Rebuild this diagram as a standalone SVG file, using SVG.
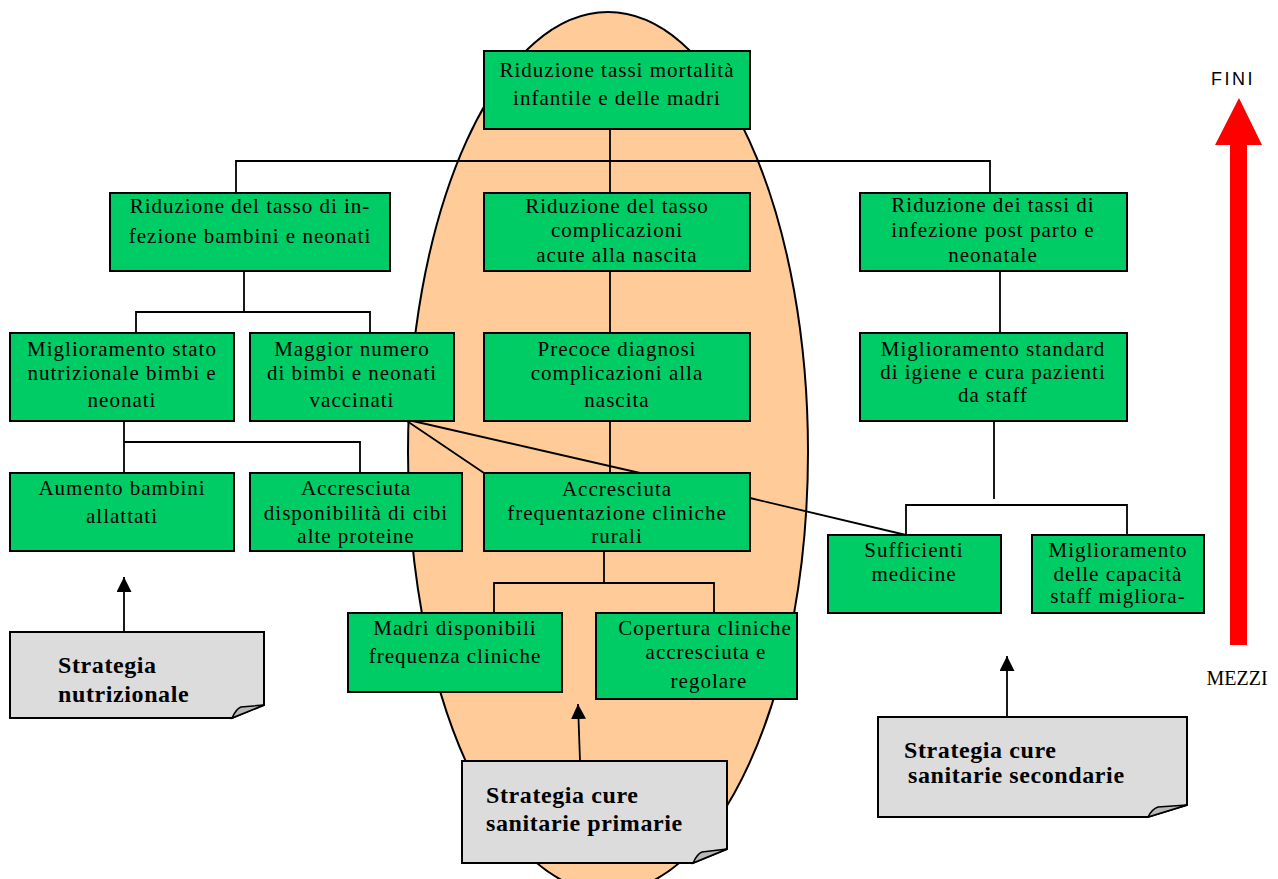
<svg xmlns="http://www.w3.org/2000/svg" width="1278" height="879" viewBox="0 0 1278 879">
<defs>
<marker id="ah" viewBox="0 0 10 10" refX="10" refY="5" markerWidth="15" markerHeight="15" markerUnits="userSpaceOnUse" orient="auto"><path d="M0,0 L10,5 L0,10 Z" fill="#000"/></marker>
<style>
.bx{fill:#00CC66;stroke:#000;stroke-width:2}
.t{font-family:"Liberation Serif",serif;font-size:21px;text-anchor:middle;fill:#000;letter-spacing:1px}
.cn{fill:none;stroke:#000;stroke-width:1.8}
.note{fill:#DCDCDC;stroke:#000;stroke-width:2}
.fold{fill:#B8B8B8;stroke:#000;stroke-width:1.5}
.nt{font-family:"Liberation Serif",serif;font-size:24px;font-weight:bold;fill:#000;letter-spacing:0.6px}
</style>
</defs>
<rect width="1278" height="879" fill="#fff"/>
<g id="ellipse"><ellipse cx="608" cy="452" rx="200" ry="440" fill="#FFCC99" stroke="#000" stroke-width="2"/></g>
<g id="connectors" class="cn">
<path d="M610,129 V193"/>
<path d="M236,193 V161 H990 V193"/>
<path d="M244,271 V312 M136,333 V312 H370 V333"/>
<path d="M610,271 V333"/>
<path d="M1000,271 V333"/>
<path d="M124,421 V442 H360 V473 M124,442 V473"/>
<path d="M610,421 V473"/>
<path d="M404,419 L484,473 M404,419 L640,473"/>
<path d="M750,498 L906,535"/>
<path d="M994,421 V499"/>
<path d="M906,535 V505 H1127 V535"/>
<path d="M604,551 V583 M494,613 V583 H714 V613"/>
<path d="M124,632 V577" marker-end="url(#ah)"/>
<path d="M580,761 L578,704" marker-end="url(#ah)"/>
<path d="M1007,717 V656" marker-end="url(#ah)"/>
</g>
<g id="n_top"><rect class="bx" x="484" y="51" width="266" height="78"/><text class="t" x="617" y="77">Riduzione tassi mortalità</text><text class="t" x="617" y="105">infantile e delle madri</text></g>
<g id="n_infez"><rect class="bx" x="110" y="193" width="280" height="78"/><text class="t" x="250" y="213">Riduzione del tasso di in-</text><text class="t" x="250" y="243">fezione bambini e neonati</text></g>
<g id="n_compl"><rect class="bx" x="484" y="193" width="266" height="78"/><text class="t" x="617" y="213">Riduzione del tasso</text><text class="t" x="617" y="237">complicazioni</text><text class="t" x="617" y="262">acute alla nascita</text></g>
<g id="n_post"><rect class="bx" x="860" y="193" width="267" height="78"/><text class="t" x="993" y="212">Riduzione dei tassi di</text><text class="t" x="993" y="237">infezione post parto e</text><text class="t" x="993" y="262">neonatale</text></g>
<g id="n_nutr"><rect class="bx" x="10" y="333" width="224" height="88"/><text class="t" x="122" y="356">Miglioramento stato</text><text class="t" x="122" y="380">nutrizionale bimbi e</text><text class="t" x="122" y="407">neonati</text></g>
<g id="n_vacc"><rect class="bx" x="250" y="333" width="204" height="88"/><text class="t" x="352" y="356">Maggior numero</text><text class="t" x="352" y="380">di bimbi e neonati</text><text class="t" x="352" y="407">vaccinati</text></g>
<g id="n_diagn"><rect class="bx" x="484" y="333" width="266" height="88"/><text class="t" x="617" y="356">Precoce diagnosi</text><text class="t" x="617" y="380">complicazioni alla</text><text class="t" x="617" y="407">nascita</text></g>
<g id="n_igiene"><rect class="bx" x="860" y="333" width="267" height="88"/><text class="t" x="993" y="356">Miglioramento standard</text><text class="t" x="993" y="379">di igiene e cura pazienti</text><text class="t" x="993" y="402">da staff</text></g>
<g id="n_allatt"><rect class="bx" x="10" y="473" width="224" height="78"/><text class="t" x="122" y="495">Aumento bambini</text><text class="t" x="122" y="523">allattati</text></g>
<g id="n_cibi"><rect class="bx" x="250" y="473" width="212" height="78"/><text class="t" x="356" y="495">Accresciuta</text><text class="t" x="356" y="520">disponibilità di cibi</text><text class="t" x="356" y="543">alte proteine</text></g>
<g id="n_freq"><rect class="bx" x="484" y="473" width="266" height="78"/><text class="t" x="617" y="496">Accresciuta</text><text class="t" x="617" y="520">frequentazione cliniche</text><text class="t" x="617" y="543">rurali</text></g>
<g id="n_medic"><rect class="bx" x="828" y="535" width="173" height="78"/><text class="t" x="914" y="557">Sufficienti</text><text class="t" x="914" y="581">medicine</text></g>
<g id="n_staff"><rect class="bx" x="1032" y="535" width="172" height="78"/><text class="t" x="1118" y="557">Miglioramento</text><text class="t" x="1118" y="581">delle capacità</text><text class="t" x="1118" y="603">staff migliora-</text></g>
<g id="n_madri"><rect class="bx" x="348" y="613" width="214" height="79"/><text class="t" x="455" y="635">Madri disponibili</text><text class="t" x="455" y="663">frequenza cliniche</text></g>
<g id="n_copert"><rect class="bx" x="596" y="613" width="201" height="86"/><text class="t" x="705" y="635">Copertura cliniche</text><text class="t" x="706" y="659">accresciuta e</text><text class="t" x="709" y="688">regolare</text></g>
<g id="note_nutr"><path class="note" d="M10,632 H264 V705 L232,718 H10 Z"/><path class="fold" d="M232,718 Q236,709 241,707 L264,705 Z"/><text class="nt" x="58" y="673">Strategia</text><text class="nt" x="58" y="702">nutrizionale</text></g>
<g id="note_prim"><path class="note" d="M462,761 H727 V849 L693,863 H462 Z"/><path class="fold" d="M693,863 Q697,854 702,852 L727,849 Z"/><text class="nt" x="486" y="803">Strategia cure</text><text class="nt" x="486" y="831">sanitarie primarie</text></g>
<g id="note_sec"><path class="note" d="M878,717 H1187 V805 L1148,817 H878 Z"/><path class="fold" d="M1148,817 Q1152,809 1158,807 L1187,805 Z"/><text class="nt" x="904" y="758">Strategia cure</text><text class="nt" x="908" y="783">sanitarie secondarie</text></g>
<g id="axis"><polygon points="1239,98 1262,145 1247,145 1247,645 1230,645 1230,145 1215,145" fill="#FF0000"/><text x="1233" y="85" font-family="Liberation Sans, sans-serif" font-size="18" letter-spacing="2.5" text-anchor="middle">FINI</text><text x="1237" y="685" font-family="Liberation Serif, serif" font-size="20" text-anchor="middle">MEZZI</text></g>
</svg>
